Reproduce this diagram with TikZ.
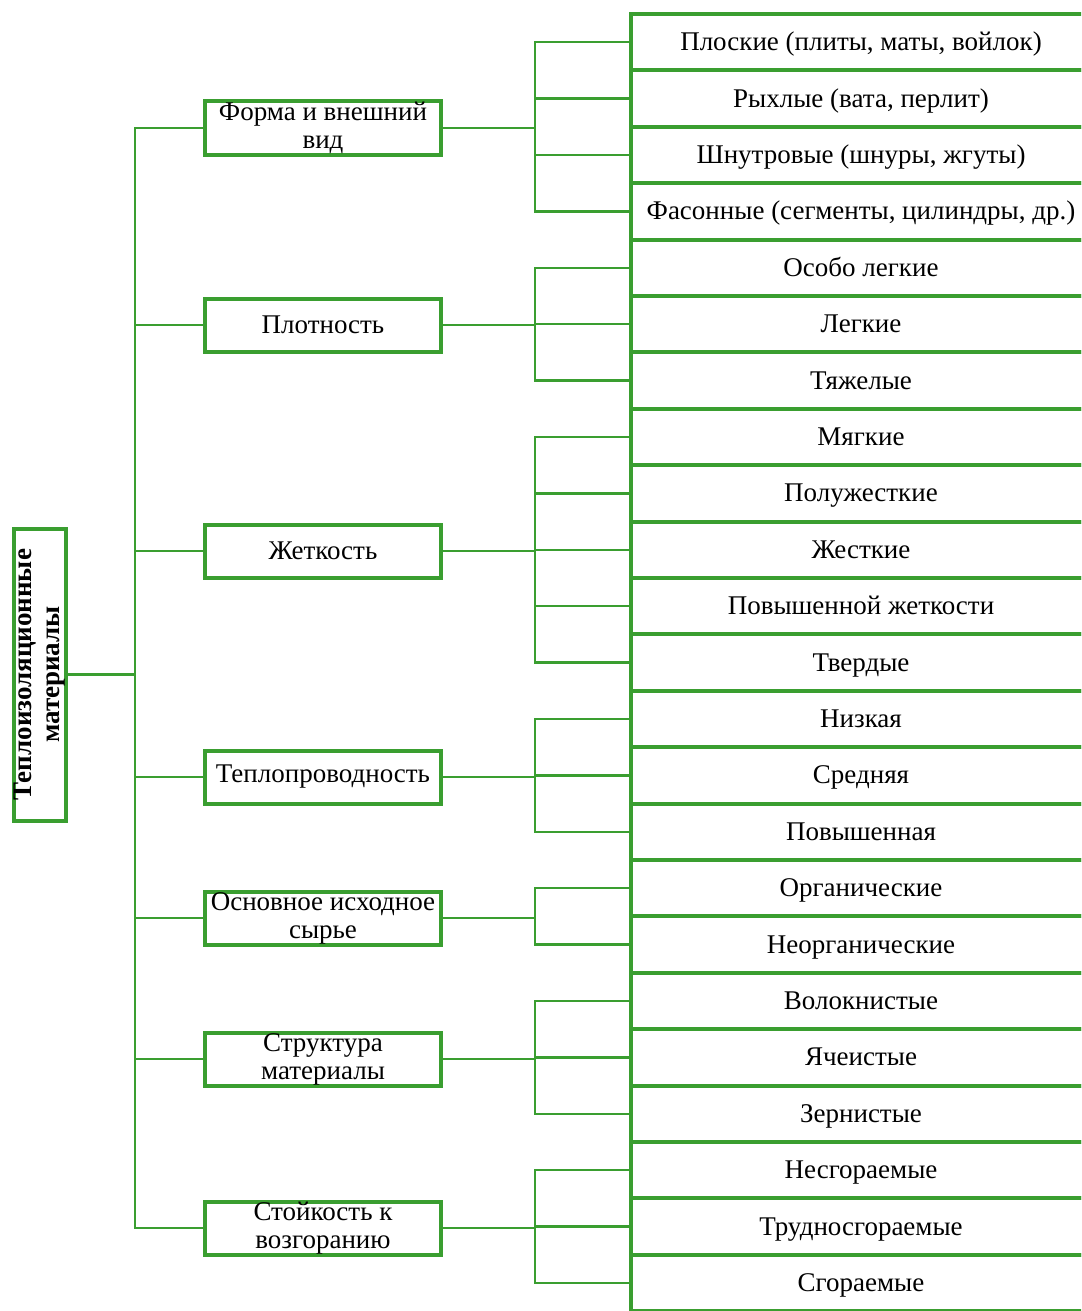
\documentclass[tikz,border=0pt]{standalone}
\usepackage{fontspec}
\setmainfont{Liberation Serif}
\usetikzlibrary{positioning}
\definecolor{grn}{RGB}{58,158,48}

\begin{document}
\begin{tikzpicture}[
        x=1pt, y=-1pt, font=\fontsize{27}{28}\selectfont,
        root/.style={rectangle, draw=grn, line width=4pt, rotate=90, minimum width=292pt, minimum height=52pt, inner sep=0pt, align=center, font=\fontsize{27}{28}\selectfont\bfseries},
        mid/.style={rectangle, draw=grn, line width=4pt, minimum width=236pt, minimum height=53pt, inner sep=0pt, align=center},
        leaf/.style={rectangle, draw=grn, line width=4pt, minimum width=460pt, minimum height=56.4pt, inner sep=0pt, anchor=west, text height=22pt, text depth=5pt},
        conn/.style={draw=grn, line width=2.5pt}
    ]
        \clip (0,0) rectangle (1081,1311);
        % left part
        \node[root] (mat) at (39.5,674.5) {Теплоизоляционные\\материалы};
        \node[mid] (forma) at (323,128) {Форма и внешний\\вид};
        \node[mid] (plot) at (323,325) {Плотность};
        \node[mid] (zhest) at (323,551) {Жеткость};
        \node[mid] (tepl) at (323,777) {Теплопроводность};
        \node[mid] (syr) at (323,918) {Основное исходное\\сырье};
        \node[mid] (struct) at (323,1059) {Структура\\материалы};
        \node[mid] (vozg) at (323,1228) {Стойкость к\\возгоранию};
        % right part
        \foreach \t [count=\i from 0] in {{Плоские (плиты, маты, войлок)}, {Рыхлые (вата, перлит)},
            {Шнутровые (шнуры, жгуты)}, {Фасонные (сегменты, цилиндры, др.)}, Особо легкие, Легкие,
            Тяжелые, Мягкие, Полужесткие, Жесткие, Повышенной жеткости, Твердые, Низкая, Средняя,
            Повышенная, Органические, Неорганические, Волокнистые, Ячеистые, Зернистые,
            Несгораемые, Трудносгораемые, Сгораемые}
            \node[leaf] (l\i) at (629,{42.2+56.4*\i}) {\t};

        \coordinate (trunk) at (135,0);
        \coordinate (br) at (535,0);
        \draw[conn] (forma.west) -| (trunk |- vozg) -- (vozg.west);
        \draw[conn] (mat.south) -- (trunk |- mat);
        \foreach \m in {plot, zhest, tepl, syr, struct}
            \draw[conn] (\m.west) -- (trunk |- \m);
        % brackets
        \foreach \m/\a/\b in {forma/0/3, plot/4/6, zhest/7/11, tepl/12/14, syr/15/16, struct/17/19, vozg/20/22} {
            \draw[conn] (\m.east) -- (br |- \m);
            \draw[conn] (l\a.west) -| (br |- l\b) -- (l\b.west);
            \foreach \k in {\a,...,\b}
                \draw[conn] (br |- l\k) -- (l\k.west);
        }
    \end{tikzpicture}
\end{document}
